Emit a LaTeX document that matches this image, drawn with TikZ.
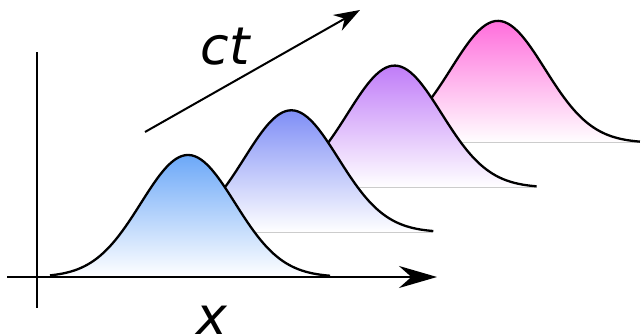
\documentclass[tikz,border=0pt]{standalone}
\usepackage{fontspec}
\setmainfont{DejaVu Sans}
\usetikzlibrary{arrows.meta}
\definecolor{waveblue}{HTML}{6CA8F8}
\definecolor{waveviolet}{HTML}{7F8EF6}
\definecolor{wavepurple}{HTML}{C07CF8}
\definecolor{wavepink}{HTML}{FF6EDC}

\begin{document}
\begin{tikzpicture}[x=0.5pt, y=-0.5pt, font=\fontsize{26}{30}\selectfont\itshape]
  \useasboundingbox (0,0) rectangle (642,335);
  % packets from the back to the front: shift 103.3 right, 44.7 up per step
  \foreach \k/\col in {3/wavepink, 2/wavepurple, 1/waveviolet, 0/waveblue}{
    \pgfmathsetmacro{\mx}{188+103.3*\k}
    \pgfmathsetmacro{\by}{277-44.7*\k}
    \shade[top color=\col, bottom color=white] (\mx-138,\by) -- plot[domain=-138:142, samples=90, smooth] ({\mx+\x},{\by-122*exp(-0.5*(\x/47)^2)}) -- (\mx+142,\by) -- cycle;
    \draw[black!20, line width=0.6pt] (\mx-138,\by) -- (\mx+142,\by);
    \draw[line width=1.15pt] plot[domain=-138:142, samples=90, smooth] ({\mx+\x},{\by-122*exp(-0.5*(\x/47)^2)});
  }
  \coordinate (ybot) at (37,308);
  \coordinate (ytop) at (37,52);
  \coordinate (xleft) at (7,277);
  \coordinate (xright) at (437,277);
  \draw[line width=1.1pt] (ybot) -- (ytop);
  \draw[line width=1.1pt, -{Stealth[length=19pt, width=11pt]}] (xleft) -- (xright);
  \coordinate (ctfrom) at (145,132);
  \coordinate (ctto) at (360,10);
  \draw[line width=1pt, -{Stealth[length=13pt, width=9pt]}] (ctfrom) -- (ctto);
  \node[anchor=base, inner sep=0pt] (ctlabel) at (225,65) {ct};
  \node[anchor=base, inner sep=0pt] (xlabel) at (212,335) {x};
\end{tikzpicture}
\end{document}
